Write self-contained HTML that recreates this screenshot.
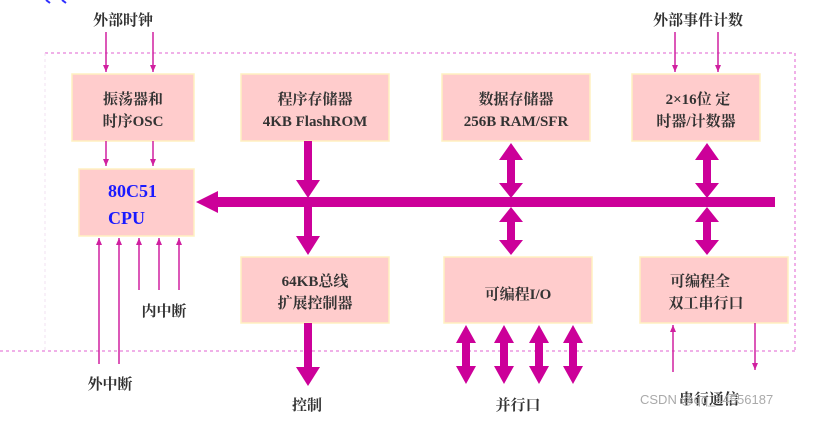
<!DOCTYPE html>
<html><head><meta charset="utf-8"><style>
body{margin:0;background:#fff}
text{font-family:"Liberation Serif","Noto Serif CJK SC",serif;font-weight:bold;fill:#333}
</style></head><body>
<svg width="824" height="416" viewBox="0 0 824 416" xmlns="http://www.w3.org/2000/svg">
<defs>
<marker id="s" markerWidth="8" markerHeight="8" refX="7" refY="4" orient="auto" markerUnits="userSpaceOnUse"><path d="M0,1 L7,4 L0,7z" fill="#d020a0"/></marker>
</defs>
<path d="M46,0 L50,3 M62,0 L66,3" stroke="#3030ff" stroke-width="2"/>
<g stroke="#e060d0" stroke-width="1" stroke-dasharray="3,3" fill="none">
<line x1="45" y1="53" x2="795" y2="53"/>
<line x1="795" y1="53" x2="795" y2="351"/>
<line x1="0" y1="351" x2="795" y2="351"/>
<line x1="45" y1="53" x2="45" y2="351" stroke="#f0e0f0"/>
</g>
<g fill="#ffcccc" stroke="#fff0c0" stroke-width="1.5">
<rect x="72" y="74" width="122" height="67"/>
<rect x="241" y="74" width="148" height="67"/>
<rect x="442" y="74" width="148" height="67"/>
<rect x="632" y="74" width="128" height="67"/>
<rect x="79" y="169" width="115" height="67"/>
<rect x="241" y="257" width="148" height="66"/>
<rect x="444" y="257" width="148" height="66"/>
<rect x="640" y="257" width="148" height="66"/>
</g>
<g stroke="#d020a0" stroke-width="1.5" marker-end="url(#s)">
<line x1="106" y1="32" x2="106" y2="72"/><line x1="153" y1="32" x2="153" y2="72"/>
<line x1="106" y1="141" x2="106" y2="166"/><line x1="153" y1="141" x2="153" y2="166"/>
<line x1="675" y1="32" x2="675" y2="72"/><line x1="718" y1="32" x2="718" y2="72"/>
<line x1="99" y1="364" x2="99" y2="238"/><line x1="119" y1="364" x2="119" y2="238"/>
<line x1="139" y1="290" x2="139" y2="238"/><line x1="159" y1="290" x2="159" y2="238"/><line x1="179" y1="290" x2="179" y2="238"/>
<line x1="673" y1="372" x2="673" y2="325"/><line x1="755" y1="323" x2="755" y2="370"/>
</g>
<g fill="#cc0099">
<rect x="214" y="197" width="561" height="10"/>
<path d="M196,202 L218,191 L218,213z"/>
<rect x="304" y="141" width="8" height="40"/><path d="M296,180 L320,180 L308,198z"/>
<rect x="304" y="207" width="8" height="30"/><path d="M296,236 L320,236 L308,255z"/>
<rect x="304" y="323" width="8" height="45"/><path d="M296,367 L320,367 L308,386z"/>
<g id="d1"><rect x="507" y="155" width="8" height="32"/><path d="M499,160 L523,160 L511,143z M499,183 L523,183 L511,198z"/>
<rect x="507" y="218" width="8" height="25"/><path d="M499,222 L523,222 L511,207z M499,240 L523,240 L511,255z"/></g>
<use href="#d1" x="196"/>
<g id="p"><rect x="462" y="338" width="8" height="35"/><path d="M456,343 L476,343 L466,325z M456,366 L476,366 L466,384z"/></g>
<use href="#p" x="38"/><use href="#p" x="73"/><use href="#p" x="107"/>
</g>
<g font-size="15" text-anchor="middle">
<text x="123" y="25">外部时钟</text>
<text x="698" y="25">外部事件计数</text>
<text x="133" y="104">振荡器和</text><text x="133" y="126">时序OSC</text>
<text x="315" y="104">程序存储器</text><text x="315" y="126">4KB FlashROM</text>
<text x="516" y="104">数据存储器</text><text x="516" y="126">256B RAM/SFR</text>
<text x="698" y="104">2×16位 定</text><text x="696" y="126">时器/计数器</text>
<text x="315" y="286">64KB总线</text><text x="315" y="308">扩展控制器</text>
<text x="518" y="299">可编程I/O</text>
<text x="700" y="286">可编程全</text><text x="706" y="308">双工串行口</text>
<text x="164" y="316">内中断</text>
<text x="110" y="389">外中断</text>
<text x="307" y="410">控制</text>
<text x="518" y="410">并行口</text>
<text x="709" y="404">串行通信</text>
</g>
<g font-size="18" text-anchor="start">
<text x="108" y="197" style="fill:#1a1aff">80C51</text>
<text x="108" y="224" style="fill:#1a1aff">CPU</text>
</g>
<text x="640" y="404" font-size="13" style="font-family:'Liberation Sans',sans-serif;font-weight:normal;fill:#aaa">CSDN @qq_44556187</text>
</svg>
</body></html>
